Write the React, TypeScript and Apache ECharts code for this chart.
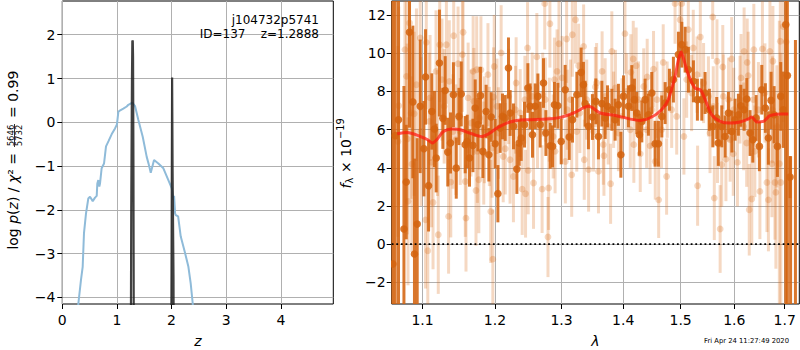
import React, { useEffect, useRef } from 'react';
import * as echarts from 'echarts';

// ---------- left panel: log p(z) ----------
const zTicks = [0, 1, 2, 3, 4];
const pzTicks = [-4, -3, -2, -1, 0, 1, 2];

const pzCoarseZ = [0.25, 0.293, 0.342, 0.373, 0.397, 0.434, 0.476, 0.507, 0.557, 0.599, 0.63, 0.641, 0.659, 0.678, 0.69, 0.72, 0.764, 0.8, 0.85, 0.905, 0.965, 1.0, 1.026, 1.044, 1.117, 1.179, 1.209, 1.282, 1.331, 1.392, 1.472, 1.545, 1.58, 1.619, 1.679, 1.758, 1.85, 1.941, 1.985, 2.003, 2.033, 2.046, 2.064, 2.077, 2.12, 2.168, 2.234, 2.308, 2.35, 2.388, 2.44];
const pzCoarse = [-5.5, -4.15, -3.6, -3.3, -2.53, -2.08, -1.74, -1.7, -1.8, -1.72, -1.68, -1.4, -1.32, -1.47, -1.4, -1.05, -0.94, -0.55, -0.42, -0.27, -0.14, -0.05, 0.24, 0.26, 0.31, 0.36, 0.4, 0.45, 0.37, 0.05, -0.33, -0.79, -0.95, -1.15, -0.86, -0.94, -1.05, -1.32, -1.45, -1.51, -1.77, -1.68, -2.08, -2.12, -2.15, -2.61, -2.92, -3.3, -3.68, -4.15, -5.5];

const pzPeak1Z = [1.245, 1.262, 1.275, 1.282, 1.29, 1.295, 1.302, 1.315];
const pzPeak1 = [-9, -2, 1.0, 1.87, 1.85, 1.5, -1, -9];
const pzPeak2Z = [1.985, 2.0, 2.01, 2.018, 2.035, 2.05];
const pzPeak2 = [-9, -3, 1.02, -1, -3.5, -9];

// ---------- right panel: spectrum ----------
const lamTicks = [1.1, 1.2, 1.3, 1.4, 1.5, 1.6, 1.7];
const fluxTicks = [-2, 0, 2, 4, 6, 8, 10, 12];

// [wavelength, flux, error] - unbinned spectrum
const lightPoints: number[][] = [
  [1.068, 5.38, 5.0], [1.069, 7.25, 5.2], [1.077, 10.19, 4.6], [1.079, 8.79, 4.8], [1.080, 5.51, 5.0],
  [1.081, 2.24, 4.4], [1.083, 11.59, 4.2], [1.085, 6.87, 4.5], [1.086, 4.19, 4.6], [1.089, 6.83, 4.3],
  [1.092, 8.35, 4.0], [1.097, 10.8, 3.8], [1.098, 5.9, 3.9],
  [1.104, 1.27, 3.6], [1.105, 10.57, 3.5], [1.107, -0.35, 3.4], [1.109, 6.43, 3.6], [1.110, 7.66, 3.3],
  [1.112, 4.28, 3.4], [1.114, 2.18, 3.5], [1.118, 9.05, 3.2], [1.120, 5.82, 3.3], [1.121, 0.49, 3.1],
  [1.123, 10.45, 3.0], [1.126, 8.62, 3.2], [1.129, 7.22, 3.0], [1.132, 10.45, 3.1], [1.135, 1.45, 3.0],
  [1.136, 8.53, 3.2], [1.138, 3.25, 2.9], [1.141, 5.9, 3.0], [1.142, 10.92, 3.1], [1.145, 5.47, 2.9],
  [1.148, 9.45, 3.0], [1.151, 5.9, 2.8], [1.154, 9.93, 3.0], [1.155, 11.1, 3.1], [1.158, 3.28, 2.9],
  [1.159, 1.36, 2.8], [1.162, 7.66, 2.9], [1.166, 6.34, 2.8], [1.169, 9.05, 2.9], [1.170, 7.48, 2.8],
  [1.173, 2.81, 2.9], [1.174, 9.14, 2.8], [1.175, 4.86, 2.7], [1.177, 3.37, 2.8], [1.178, 6.61, 2.7],
  [1.180, 9.14, 2.8], [1.184, 4.77, 2.7], [1.185, 5.99, 2.8], [1.190, 8.88, 2.7], [1.192, 5.64, 2.6],
  [1.194, 1.71, 2.7], [1.196, 5.03, 2.6], [1.197, -0.79, 2.6], [1.198, 7.71, 2.6], [1.199, 9.31, 2.7],
  [1.203, 7.22, 2.5], [1.205, 5.82, 2.4], [1.209, 10.02, 2.5], [1.212, 4.59, 2.4], [1.215, 5.0, 2.4],
  [1.220, 7.74, 2.5], [1.222, 4.42, 2.3], [1.227, 3.54, 2.4], [1.230, 7.04, 2.3], [1.231, 8.44, 2.4],
  [1.237, 6.87, 2.3], [1.240, 2.88, 2.4], [1.244, 7.57, 2.3], [1.245, 2.64, 2.3], [1.248, 10.28, 2.4],
  [1.249, 3.86, 2.3], [1.255, 7.74, 2.3], [1.257, 3.20, 2.4], [1.262, 9.81, 2.3], [1.263, 6.17, 2.2],
  [1.270, 2.88, 2.3], [1.271, 7.83, 2.2], [1.274, 12.6, 2.4], [1.275, 7.57, 2.2], [1.279, 0.37, 2.1],
  [1.280, 2.94, 2.2], [1.281, 6.52, 2.2], [1.282, 11.55, 2.3], [1.287, 5.64, 2.2], [1.289, 8.62, 2.2],
  [1.290, 4.86, 2.2], [1.293, 9.05, 2.2], [1.296, 10.5, 2.3],
  [1.301, 8.71, 2.2], [1.306, 4.33, 2.2], [1.308, 10.75, 2.3], [1.309, 7.04, 2.1], [1.314, 7.57, 2.1],
  [1.316, 3.63, 2.2], [1.317, 10.97, 2.2], [1.322, 11.76, 2.3], [1.324, 5.9, 2.1], [1.327, 9.35, 2.2],
  [1.329, 6.87, 2.1], [1.335, 10.36, 2.2], [1.336, 4.42, 2.1], [1.340, 7.57, 2.1], [1.343, 3.90, 2.2],
  [1.351, 5.9, 2.1], [1.354, 8.23, 2.1], [1.356, 8.44, 2.1], [1.359, 3.81, 2.2], [1.365, 9.05, 2.1],
  [1.367, 5.21, 2.1], [1.368, 4.63, 2.1], [1.370, 7.74, 2.0], [1.375, 6.17, 2.0], [1.379, 3.16, 2.1],
  [1.381, 10.1, 2.1], [1.384, 7.04, 2.0], [1.387, 8.18, 2.0], [1.392, 5.82, 2.0], [1.398, 6.69, 2.0],
  [1.403, 11.03, 2.1], [1.406, 8.0, 2.0], [1.412, 5.99, 2.0], [1.413, 9.0, 2.0], [1.417, 9.7, 2.0],
  [1.418, 5.21, 2.0], [1.422, 9.35, 2.0], [1.426, 7.57, 2.0], [1.429, 4.73, 2.0], [1.435, 8.26, 2.0],
  [1.440, 5.99, 2.0], [1.441, 8.76, 2.0], [1.446, 5.15, 2.0], [1.449, 7.04, 2.0], [1.452, 9.17, 2.0],
  [1.455, 4.33, 2.0], [1.458, 7.57, 2.0], [1.461, 2.32, 2.0], [1.466, 5.99, 2.0], [1.469, 9.52, 2.0],
  [1.475, 3.54, 2.0], [1.476, 7.57, 2.0], [1.484, 7.04, 2.0], [1.490, 12.6, 2.1], [1.493, 6.69, 2.0],
  [1.499, 11.76, 2.1],
  [1.502, 12.6, 2.1], [1.506, 5.64, 2.0], [1.511, 8.62, 2.0], [1.514, 11.24, 2.1], [1.520, 7.92, 2.0],
  [1.523, 10.28, 2.0], [1.530, 8.88, 2.0], [1.531, 3.06, 2.1], [1.536, 10.85, 2.1], [1.542, 8.44, 2.1],
  [1.551, 7.74, 2.1], [1.554, 5.82, 2.1], [1.559, 11.9, 2.2], [1.560, 7.22, 2.1], [1.562, 2.41, 2.2],
  [1.567, 9.58, 2.2], [1.568, 5.30, 2.1], [1.573, 0.79, 2.3], [1.576, 4.16, 2.2], [1.578, 9.28, 2.2],
  [1.579, 7.74, 2.2], [1.584, 4.45, 2.2], [1.589, 7.57, 2.2], [1.592, 5.47, 2.2], [1.595, 9.7, 2.2],
  [1.598, 4.73, 2.2], [1.599, 7.04, 2.2],
  [1.606, 4.28, 2.3], [1.611, 7.57, 2.3], [1.613, 8.71, 2.3], [1.618, 6.17, 2.3], [1.619, 10.1, 2.3],
  [1.624, 5.30, 2.3], [1.625, 9.52, 2.3], [1.627, 8.83, 2.3], [1.629, 1.80, 2.4], [1.634, 2.36, 2.4],
  [1.637, 7.57, 2.4], [1.638, 10.19, 2.4], [1.640, 4.86, 2.4], [1.647, 7.04, 2.5], [1.650, 2.76, 2.5],
  [1.655, 10.23, 2.5], [1.660, 7.92, 2.6], [1.664, 3.23, 2.6], [1.667, 2.32, 2.7], [1.670, 10.1, 2.7],
  [1.674, 4.21, 2.8], [1.675, 7.04, 2.8], [1.676, 9.58, 2.9], [1.680, 3.23, 3.0], [1.682, 2.71, 4.0],
  [1.684, 6.17, 3.2], [1.689, 4.21, 7.5], [1.691, 10.63, 3.6], [1.692, 3.23, 6.8], [1.697, 11.4, 5.0],
  [1.703, 10.6, 4.5]
];

// [wavelength, flux, error] - binned spectrum
const binnedPoints: number[][] = [
  [1.0615, -1.04, 14], [1.0645, 5.68, 10], [1.0687, 6.51, 10], [1.0757, 0.79, 7.5], [1.0787, 3.25, 3.0],
  [1.0829, 11.1, 5.0], [1.0873, 7.45, 4.0], [1.0894, -0.52, 5.0], [1.0930, 1.05, 4.5], [1.0969, 7.22, 3.5],
  [1.1018, 5.0, 2.5], [1.1040, 8.76, 2.5], [1.1080, 3.06, 2.4], [1.1124, 6.95, 2.0], [1.1159, 6.03, 2.0],
  [1.1182, 4.51, 1.8], [1.1226, 9.49, 2.8], [1.1272, 6.59, 1.6], [1.1304, 8.05, 1.8], [1.1339, 4.82, 1.8],
  [1.1376, 5.30, 1.6], [1.1416, 7.83, 1.7], [1.1455, 3.98, 1.6], [1.1492, 6.69, 1.5], [1.1524, 7.87, 1.7],
  [1.1579, 5.21, 1.5], [1.1607, 5.38, 1.4], [1.1639, 4.51, 1.5], [1.1687, 5.17, 1.4], [1.1719, 7.13, 1.5],
  [1.1757, 6.26, 1.4], [1.1793, 7.78, 1.5], [1.1827, 4.86, 1.4], [1.1874, 6.95, 1.4], [1.1913, 4.68, 1.4],
  [1.1946, 6.66, 1.3], [1.2004, 5.26, 1.3], [1.2043, 2.64, 1.5], [1.2076, 6.08, 1.3], [1.2110, 6.69, 1.2],
  [1.2149, 6.61, 1.2], [1.2197, 9.23, 1.6], [1.2222, 6.87, 1.2], [1.2271, 6.17, 1.2], [1.2321, 3.93, 1.3],
  [1.2355, 5.30, 1.2], [1.2385, 5.56, 1.2], [1.2434, 6.26, 1.2], [1.2485, 8.18, 1.3], [1.2519, 7.22, 1.2],
  [1.2554, 5.73, 1.2], [1.2595, 7.22, 1.2], [1.2636, 7.74, 1.2], [1.2671, 6.26, 1.2], [1.2721, 8.44, 1.3],
  [1.2758, 5.82, 1.2], [1.2824, 5.15, 1.2], [1.2860, 5.12, 1.1], [1.2890, 7.30, 1.2], [1.2943, 7.25, 1.2],
  [1.2995, 5.38, 1.2], [1.3057, 8.09, 1.3], [1.3120, 5.61, 1.2], [1.3173, 6.52, 1.2], [1.3242, 7.83, 1.2],
  [1.3310, 9.0, 1.3], [1.3347, 8.35, 1.2], [1.3374, 7.36, 1.2], [1.3427, 6.17, 1.2], [1.3492, 6.66, 1.2],
  [1.3547, 7.48, 1.2], [1.3590, 5.64, 1.2], [1.3646, 7.36, 1.2], [1.3700, 6.61, 1.1], [1.3738, 7.22, 1.1],
  [1.3811, 7.04, 1.1], [1.3865, 6.52, 1.1], [1.3920, 7.30, 1.1], [1.3961, 4.68, 1.2], [1.4005, 7.74, 1.1],
  [1.4089, 7.22, 1.1], [1.4146, 8.18, 1.2], [1.4190, 7.57, 1.1], [1.4231, 6.87, 1.1], [1.4276, 5.73, 1.1],
  [1.4317, 6.43, 1.1], [1.4374, 7.57, 1.1], [1.4431, 6.78, 1.1], [1.4490, 7.92, 1.1], [1.4548, 5.26, 1.2],
  [1.4606, 5.26, 1.2], [1.4665, 6.69, 1.1], [1.4724, 7.39, 1.1], [1.4800, 8.09, 1.1], [1.4871, 8.62, 1.2],
  [1.4961, 9.93, 1.2], [1.5022, 10.45, 1.2], [1.5082, 10.19, 1.2], [1.5142, 9.14, 1.2], [1.5233, 8.53, 1.1],
  [1.5306, 7.57, 1.1], [1.5387, 7.57, 1.1], [1.5448, 7.92, 1.1], [1.5528, 7.04, 1.1], [1.5592, 6.17, 1.1],
  [1.5666, 6.61, 1.1], [1.5696, 5.30, 1.2], [1.5761, 6.17, 1.1], [1.5824, 5.64, 1.1], [1.5887, 6.87, 1.1],
  [1.5952, 5.90, 1.1], [1.6015, 6.52, 1.1], [1.6079, 6.78, 1.1], [1.6126, 7.25, 1.1], [1.6190, 7.04, 1.1],
  [1.6242, 7.60, 1.1], [1.6306, 5.82, 1.2], [1.6360, 5.47, 1.2], [1.6425, 6.61, 1.2], [1.6490, 5.12, 1.3],
  [1.6537, 8.09, 1.3], [1.6609, 7.13, 1.3], [1.6669, 5.56, 1.4], [1.6723, 7.53, 1.5], [1.6784, 6.78, 1.5],
  [1.6851, 5.12, 1.6], [1.6919, 7.74, 1.8], [1.6972, 7.04, 2.0], [1.7021, 11.5, 15], [1.7054, 8.83, 14],
  [1.7109, 3.51, 1.1], [1.7120, -6, 10.6], [1.7220, -10, 20.7]
];

const modelWave = [1.067, 1.080, 1.097, 1.107, 1.113, 1.119, 1.128, 1.140, 1.151, 1.167, 1.181, 1.191, 1.203, 1.217, 1.232, 1.252, 1.277, 1.298, 1.319, 1.343, 1.362, 1.389, 1.412, 1.429, 1.449, 1.466, 1.478, 1.490, 1.496, 1.501, 1.505, 1.514, 1.526, 1.536, 1.545, 1.557, 1.573, 1.592, 1.611, 1.627, 1.634, 1.644, 1.657, 1.670, 1.691, 1.707];
const modelFlux = [5.78, 5.85, 5.64, 5.47, 5.30, 5.47, 5.90, 6.03, 5.99, 5.78, 5.64, 5.78, 6.08, 6.34, 6.48, 6.52, 6.55, 6.64, 6.87, 7.22, 6.87, 6.73, 6.55, 6.48, 6.66, 7.04, 7.57, 8.79, 9.66, 10.07, 9.75, 8.88, 8.18, 8.09, 7.57, 6.78, 6.43, 6.34, 6.40, 6.55, 6.66, 6.40, 6.43, 6.73, 6.82, 6.82];

const zeroWave = [1.06, 1.73];

const FONT = 'DejaVu Sans';

const numFmt = (v: number) => (v < 0 ? '\u2212' + String(Math.abs(v)) : String(v));

function errRender(color: string, barW: number, r: number) {
  return (params: any, api: any) => {
    const x = api.value(0);
    const y = api.value(1);
    const e = api.value(2);
    const c = api.coord([x, y]);
    const hi = api.coord([x, y + e]);
    const lo = api.coord([x, y - e]);
    return {
      type: 'group',
      children: [
        { type: 'rect', shape: { x: c[0] - barW / 2, y: hi[1], width: barW, height: lo[1] - hi[1] }, style: { fill: color } },
        { type: 'circle', shape: { cx: c[0], cy: c[1], r }, style: { fill: color } },
      ],
    };
  };
}

function mkAxis(extra: any, ticks: number[], fmt: (v: number) => string, margin: number) {
  return {
    ...extra,
    axisLine: { show: false, onZero: false },
    axisTick: { show: true, length: 5, customValues: ticks, lineStyle: { color: '#000', width: 1 } },
    axisLabel: { color: '#000', fontSize: 14, fontFamily: FONT, margin, customValues: ticks, formatter: fmt },
    splitLine: { show: true, lineStyle: { color: '#b0b0b0', width: 1 } },
  };
}

export default function App() {
  const ref = useRef<HTMLDivElement>(null);
  useEffect(() => {
    if (!ref.current) return;
    const chart = echarts.init(ref.current, null, { renderer: 'svg' });
    const txt = (extra: any) => ({ fill: '#000', fontFamily: FONT, ...extra });
    const option: any = {
      animation: false,
      backgroundColor: '#fff',
      grid: [
        { left: 62.3, top: 1, width: 271, height: 303, show: true, borderColor: '#000', borderWidth: 1, backgroundColor: 'transparent' },
        { left: 391.7, top: 1, width: 407.6, height: 303, show: true, borderColor: '#000', borderWidth: 1, backgroundColor: 'transparent' },
      ],
      xAxis: [
        mkAxis({ type: 'value', gridIndex: 0, min: 0, max: 4.96 }, zTicks, numFmt, 9),
        mkAxis({ type: 'log', logBase: 10, gridIndex: 1, min: 1.06, max: 1.73 }, lamTicks, (v: number) => v.toFixed(1), 9),
      ],
      yAxis: [
        mkAxis({ type: 'value', gridIndex: 0, min: -4.15, max: 2.77 }, pzTicks, numFmt, 7),
        mkAxis({ type: 'value', gridIndex: 1, min: -3.14, max: 12.74 }, fluxTicks, numFmt, 6),
      ],
      series: [
        {
          type: 'line', xAxisIndex: 0, yAxisIndex: 0, showSymbol: false, symbol: 'none',
          data: pzCoarseZ.map((z, i) => [z, pzCoarse[i]]),
          lineStyle: { color: '#8fbbd9', width: 2 }, z: 2,
        },
        {
          type: 'line', xAxisIndex: 0, yAxisIndex: 0, showSymbol: false, symbol: 'none',
          data: pzPeak1Z.map((z, i) => [z, pzPeak1[i]]),
          lineStyle: { color: 'rgba(30,30,30,0.85)', width: 2.2 }, z: 3,
        },
        {
          type: 'line', xAxisIndex: 0, yAxisIndex: 0, showSymbol: false, symbol: 'none',
          data: pzPeak2Z.map((z, i) => [z, pzPeak2[i]]),
          lineStyle: { color: 'rgba(30,30,30,0.85)', width: 2.2 }, z: 3,
        },
        {
          type: 'custom', xAxisIndex: 1, yAxisIndex: 1, clip: true,
          encode: { x: 0, y: 1 },
          data: lightPoints,
          renderItem: errRender('rgba(215,105,20,0.26)', 3, 3.4), z: 2,
        },
        {
          type: 'custom', xAxisIndex: 1, yAxisIndex: 1, clip: true,
          encode: { x: 0, y: 1 },
          data: binnedPoints,
          renderItem: errRender('rgba(212,100,16,0.88)', 3, 3.8), z: 3,
        },
        {
          type: 'line', xAxisIndex: 1, yAxisIndex: 1, showSymbol: false, symbol: 'none',
          data: modelWave.map((w, i) => [w, modelFlux[i]]),
          smooth: 0.3,
          lineStyle: { color: 'rgba(255,25,15,0.72)', width: 3 }, z: 4,
        },
        {
          type: 'line', xAxisIndex: 1, yAxisIndex: 1, showSymbol: false, symbol: 'none',
          data: zeroWave.map((w) => [w, 0]),
          lineStyle: { color: '#000', width: 1.8, type: [1.8, 2.8] }, z: 5,
        },
      ],
      graphic: [
        { type: 'text', z: 100, x: 319, y: 20, style: txt({ text: 'j104732p5741', fontSize: 12, align: 'right', verticalAlign: 'middle' }) },
        { type: 'text', z: 100, x: 319, y: 34, style: txt({ text: 'ID=137    z=1.2888', fontSize: 12, align: 'right', verticalAlign: 'middle' }) },
        { type: 'text', z: 100, x: 197.8, y: 341, style: txt({ text: 'z', fontSize: 14, fontStyle: 'italic', align: 'center', verticalAlign: 'middle' }) },
        { type: 'text', z: 100, x: 595.5, y: 341, style: txt({ text: '\u03bb', fontSize: 14, fontStyle: 'italic', align: 'center', verticalAlign: 'middle' }) },
        { type: 'text', z: 100, x: 789, y: 341, style: txt({ text: 'Fri Apr 24 11:27:49 2020', fontSize: 6.8, align: 'right', verticalAlign: 'middle' }) },
        {
          type: 'group', x: 12.5, y: 135.5, rotation: Math.PI / 2, z: 100,
          children: [
            {
              type: 'text', x: -13, y: 0, z: 100,
              style: txt({
                text: '{r|log }{i|p}{r|(}{i|z}{r|) / }{i|\u03c7}{r|\u00b2 = }',
                rich: {
                  r: { fontSize: 14, fontFamily: FONT, fill: '#000' },
                  i: { fontSize: 14, fontFamily: FONT, fontStyle: 'italic', fill: '#000' },
                },
                align: 'right', verticalAlign: 'middle',
              }),
            },
            { type: 'text', z: 100, x: 0, y: -2, style: txt({ text: '5646', fontSize: 8.5, align: 'center', verticalAlign: 'middle' }) },
            { type: 'line', z: 100, shape: { x1: -11.5, y1: 2, x2: 11.5, y2: 2 }, style: { stroke: '#000', lineWidth: 0.8 } },
            { type: 'text', z: 100, x: 0, y: 6.3, style: txt({ text: '5732', fontSize: 8.5, align: 'center', verticalAlign: 'middle' }) },
            { type: 'text', z: 100, x: 13, y: 0, style: txt({ text: ' = 0.99', fontSize: 14, align: 'left', verticalAlign: 'middle' }) },
          ],
        },
        {
          type: 'group', x: 345.5, y: 153.5, rotation: Math.PI / 2, z: 100,
          children: [
            { type: 'text', z: 100, x: -35, y: 0, style: txt({ text: 'f', fontSize: 14, fontStyle: 'italic', align: 'left', verticalAlign: 'middle' }) },
            { type: 'text', z: 100, x: -30, y: 4, style: txt({ text: '\u03bb', fontSize: 9.8, align: 'left', verticalAlign: 'middle' }) },
            { type: 'text', z: 100, x: -24, y: 0, style: txt({ text: ' \u00d7 10', fontSize: 14, align: 'left', verticalAlign: 'middle' }) },
            { type: 'text', z: 100, x: 14.5, y: -5, style: txt({ text: '\u221219', fontSize: 9.8, align: 'left', verticalAlign: 'middle' }) },
          ],
        },
      ],
    };
    chart.setOption(option);
    return () => chart.dispose();
  }, []);
  return <div ref={ref} style={{ position: 'absolute', left: 0, top: 0, width: 800, height: 350 }} />;
}
